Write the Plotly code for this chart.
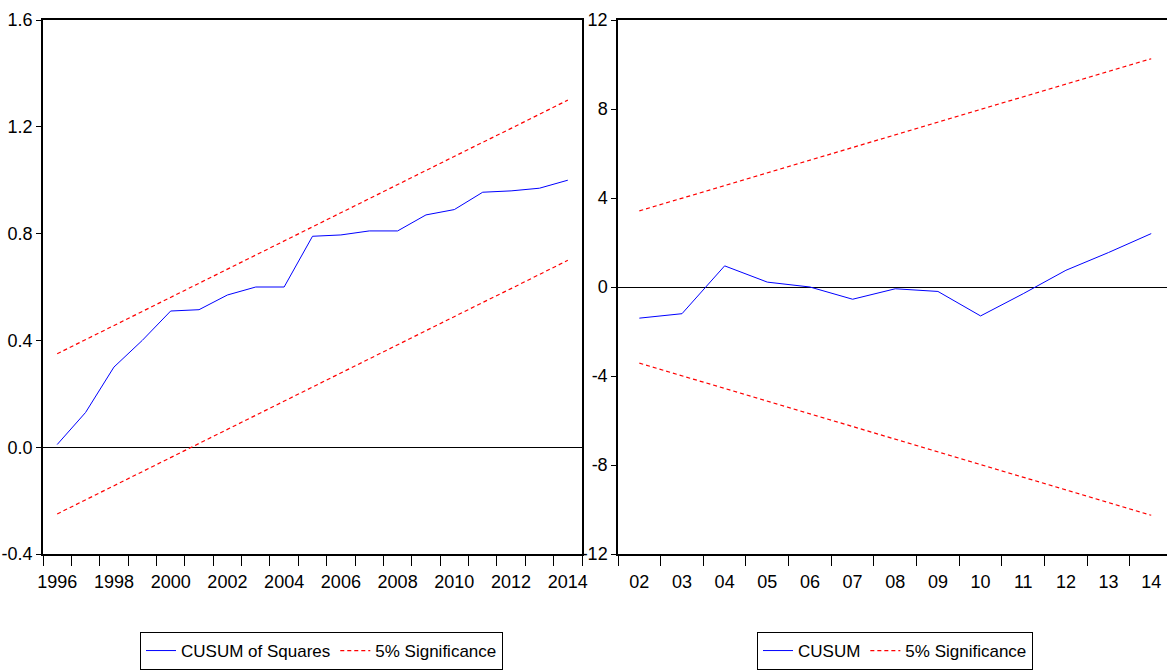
import plotly.graph_objects as go

# ---- CUSUM of squares (annual, 1996-2014) ----
years_sq = list(range(1996, 2015))
cusum_sq = [0.01, 0.13, 0.30, 0.40, 0.51, 0.515, 0.57, 0.60, 0.60, 0.79,
            0.795, 0.81, 0.81, 0.87, 0.89, 0.955, 0.96, 0.97, 1.00]
sq_upper = [0.350, 0.403, 0.456, 0.508, 0.561, 0.614, 0.667, 0.719, 0.772, 0.825,
            0.878, 0.931, 0.983, 1.036, 1.089, 1.142, 1.194, 1.247, 1.300]
sq_lower = [-0.250, -0.197, -0.144, -0.092, -0.039, 0.014, 0.067, 0.119, 0.172, 0.225,
            0.278, 0.331, 0.383, 0.436, 0.489, 0.542, 0.594, 0.647, 0.700]
sq_xtick_vals = [1996, 1998, 2000, 2002, 2004, 2006, 2008, 2010, 2012, 2014]
sq_ytick_vals = [-0.4, 0.0, 0.4, 0.8, 1.2, 1.6]
sq_ytick_text = ["-0.4", "0.0", "0.4", "0.8", "1.2", "1.6"]

# ---- CUSUM (annual, 2002-2014) ----
years_cu = list(range(2002, 2015))
year_labels_cu = ["02", "03", "04", "05", "06", "07", "08", "09", "10", "11", "12", "13", "14"]
cusum = [-1.4, -1.2, 0.95, 0.22, 0.0, -0.55, -0.08, -0.2, -1.3, -0.3, 0.75, 1.55, 2.4]
cu_upper = [3.42, 3.99, 4.56, 5.13, 5.70, 6.27, 6.84, 7.41, 7.98, 8.55, 9.12, 9.69, 10.26]
cu_lower = [-3.42, -3.99, -4.56, -5.13, -5.70, -6.27, -6.84, -7.41, -7.98, -8.55, -9.12, -9.69, -10.26]
cu_ytick_vals = [-12, -8, -4, 0, 4, 8, 12]
cu_ytick_text = ["-12", "-8", "-4", "0", "4", "8", "12"]

FONT = "Liberation Sans Narrow, Arial Narrow, Liberation Sans, Arial, sans-serif"
W, H = 1167, 670
BLUE = "#0000FF"
RED = "#FF0000"
DASH = "4px,3px"


def px_x(p):
    return p / W


def px_y(p):
    return 1 - p / H


fig = go.Figure()

# left panel
fig.add_trace(go.Scatter(x=years_sq, y=cusum_sq, mode="lines", name="CUSUM of Squares",
                         line=dict(color=BLUE, width=1), xaxis="x", yaxis="y", legend="legend"))
fig.add_trace(go.Scatter(x=years_sq, y=sq_upper, mode="lines", name="5% Significance",
                         line=dict(color=RED, width=1.2, dash=DASH), xaxis="x", yaxis="y",
                         legend="legend"))
fig.add_trace(go.Scatter(x=years_sq, y=sq_lower, mode="lines", name="5% Significance",
                         line=dict(color=RED, width=1.2, dash=DASH), xaxis="x", yaxis="y",
                         showlegend=False))

# right panel
fig.add_trace(go.Scatter(x=years_cu, y=cusum, mode="lines", name="CUSUM",
                         line=dict(color=BLUE, width=1), xaxis="x2", yaxis="y2", legend="legend2"))
fig.add_trace(go.Scatter(x=years_cu, y=cu_upper, mode="lines", name="5% Significance",
                         line=dict(color=RED, width=1.2, dash=DASH), xaxis="x2", yaxis="y2",
                         legend="legend2"))
fig.add_trace(go.Scatter(x=years_cu, y=cu_lower, mode="lines", name="5% Significance",
                         line=dict(color=RED, width=1.2, dash=DASH), xaxis="x2", yaxis="y2",
                         showlegend=False))

xcommon = dict(showgrid=False, zeroline=False, showline=True, linecolor="black", linewidth=2,
               ticks="outside", ticklen=10, tickcolor="rgba(0,0,0,0)", automargin=False,
               tickfont=dict(family=FONT, size=18, color="black"))
ycommon = dict(showgrid=False, showline=True, linecolor="black", linewidth=1.5,
               ticks="outside", ticklen=5, tickcolor="black", tickwidth=1, automargin=False,
               zeroline=True, zerolinecolor="black", zerolinewidth=1,
               tickfont=dict(family=FONT, size=18, color="black"))

fig.update_layout(
    width=W, height=H,
    margin=dict(l=0, r=0, t=0, b=0, autoexpand=False),
    paper_bgcolor="white", plot_bgcolor="white",
    font=dict(family=FONT, size=17, color="black"),
    xaxis=dict(**xcommon, domain=[px_x(43), px_x(582)], range=[1995.5, 2014.5],
               anchor="y", mirror=True, tickmode="array", tickvals=sq_xtick_vals,
               ticktext=[str(v) for v in sq_xtick_vals],
               minor=dict(tickmode="array", tickvals=[y - 0.5 for y in years_sq] + [2014.5],
                          ticks="outside", ticklen=10, tickcolor="black", tickwidth=1)),
    yaxis=dict(**ycommon, domain=[px_y(554), px_y(20)], range=[-0.4, 1.6], anchor="x",
               mirror=True, tickmode="array", tickvals=sq_ytick_vals, ticktext=sq_ytick_text),
    xaxis2=dict(**xcommon, domain=[px_x(618), 1.0], range=[2001.5, 2014.37],
                anchor="y2", mirror=True, tickmode="array", tickvals=years_cu,
                ticktext=year_labels_cu,
                minor=dict(tickmode="array", tickvals=[y - 0.5 for y in years_cu],
                           ticks="outside", ticklen=10, tickcolor="black", tickwidth=1)),
    yaxis2=dict(**ycommon, domain=[px_y(554), px_y(20)], range=[-12, 12], anchor="x2",
                mirror=False, tickmode="array", tickvals=cu_ytick_vals, ticktext=cu_ytick_text),
    legend=dict(orientation="h", x=px_x(140), y=px_y(632), xanchor="left", yanchor="top",
                bordercolor="black", borderwidth=1, bgcolor="white",
                font=dict(family=FONT, size=17, color="black")),
    legend2=dict(orientation="h", x=px_x(757), y=px_y(632), xanchor="left", yanchor="top",
                 bordercolor="black", borderwidth=1, bgcolor="white",
                 font=dict(family=FONT, size=17, color="black")),
    showlegend=True,
)

fig.write_html("out.html")
